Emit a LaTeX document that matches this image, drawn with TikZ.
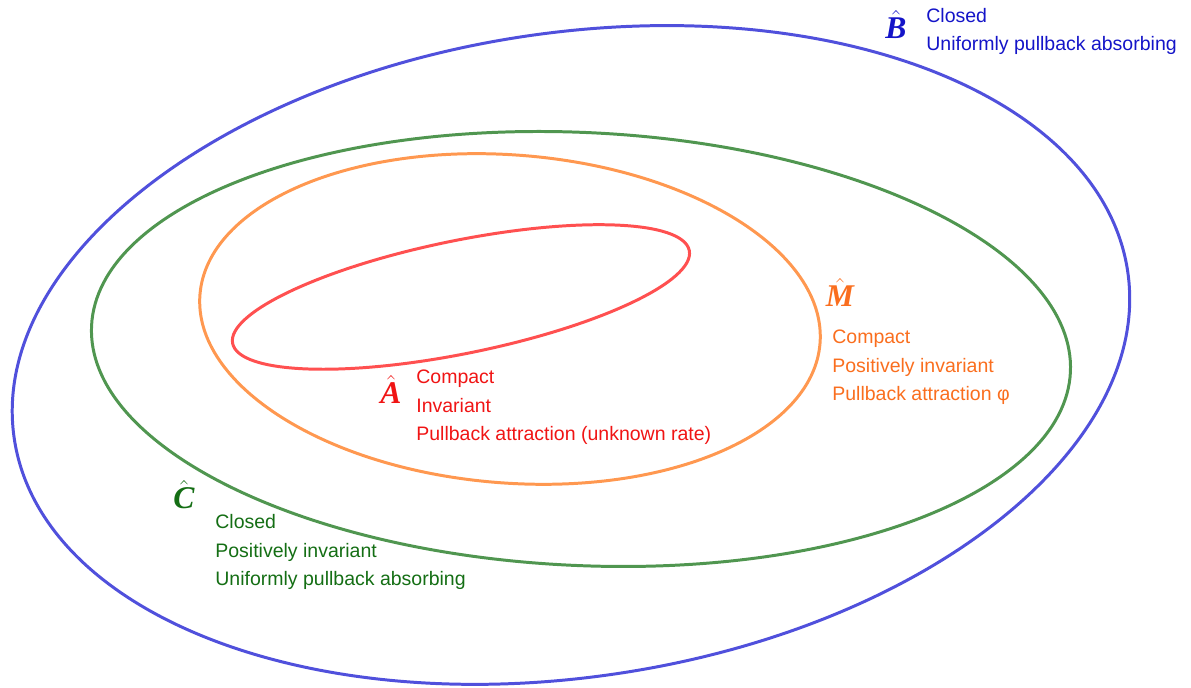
\documentclass[tikz,border=0pt]{standalone}
\usepackage{fontspec}
\setmainfont{Liberation Sans}
\newfontfamily\setfont{Liberation Serif}
\definecolor{bline}{RGB}{80,80,220}
\definecolor{btext}{RGB}{20,20,200}
\definecolor{gline}{RGB}{80,150,80}
\definecolor{gtext}{RGB}{20,110,20}
\definecolor{oline}{RGB}{255,152,80}
\definecolor{otext}{RGB}{250,110,30}
\definecolor{rline}{RGB}{255,80,80}
\definecolor{rtext}{RGB}{240,20,20}
\newcommand{\setlabel}[1]{$\hat{\mbox{\setfont\bfseries\itshape #1}}$}
\tikzset{
  setline/.style={line width=1.7pt},
  props/.style={anchor=base west,align=left,inner sep=0pt,font=\fontsize{11.1}{16.4}\selectfont},
  setname/.style={anchor=base,inner sep=0pt,font=\fontsize{18}{20}\selectfont}
}
\begin{document}
\begin{tikzpicture}[x=0.02cm,y=-0.02cm]
\useasboundingbox (0,0) rectangle (1191,688);
\coordinate (Bc) at (571,355);
\coordinate (Cc) at (581,349);
\coordinate (Mc) at (510,319);
\coordinate (Ac) at (461,297);
\draw[setline,bline,rotate around={8.6:(Bc)}] (Bc) ellipse [x radius=563,y radius=322];
\draw[setline,gline,rotate around={-2.7:(Cc)}] (Cc) ellipse [x radius=490,y radius=216.5];
\draw[setline,oline,rotate around={-4.5:(Mc)}] (Mc) ellipse [x radius=311,y radius=164];
\draw[setline,rline,rotate around={11.5:(Ac)}] (Ac) ellipse [x radius=233,y radius=56.5];
\node[setname,btext] (Bname) at (896,39) {\setlabel{B}};
\node[props,btext] (Bprops) at (926,51) {Closed\\Uniformly pullback absorbing};
\node[setname,gtext] (Cname) at (184,509) {\setlabel{C}};
\node[props,gtext] (Cprops) at (215,586) {Closed\\Positively invariant\\Uniformly pullback absorbing};
\node[setname,otext] (Mname) at (840,307) {\setlabel{M}};
\node[props,otext] (Mprops) at (832,401) {Compact\\Positively invariant\\Pullback attraction φ};
\node[setname,rtext] (Aname) at (391,404) {\setlabel{A}};
\node[props,rtext] (Aprops) at (416,441) {Compact\\Invariant\\Pullback attraction (unknown rate)};
\end{tikzpicture}
\end{document}
